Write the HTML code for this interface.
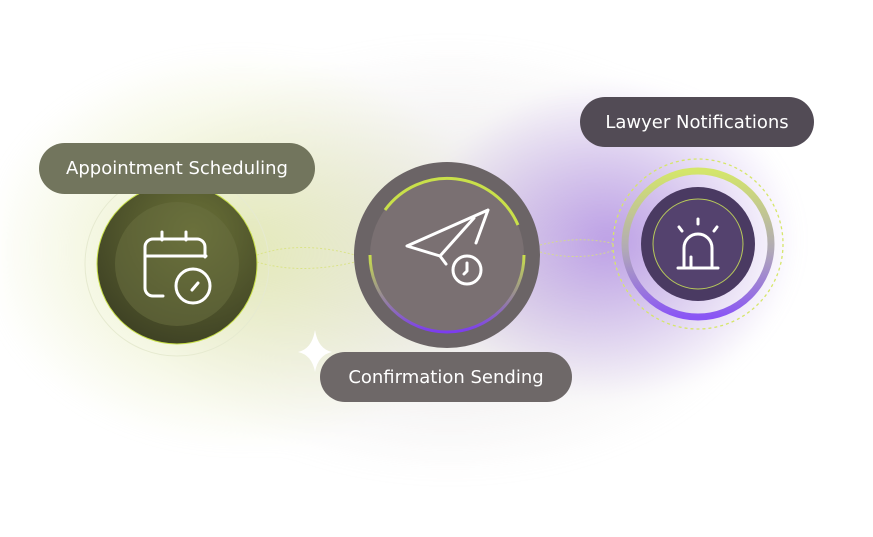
<!DOCTYPE html>
<html><head><meta charset="utf-8"><style>
html,body{margin:0;padding:0;}
body{width:873px;height:537px;position:relative;overflow:hidden;background:#fff;font-family:"DejaVu Sans","Liberation Sans",sans-serif;}
.bg{position:absolute;inset:0;background:
radial-gradient(ellipse 190px 160px at 610px 240px,rgba(165,125,225,0.7),rgba(165,125,225,0) 100%),
radial-gradient(ellipse 260px 200px at 240px 250px,rgba(220,228,160,0.7),rgba(220,228,160,0) 100%),
radial-gradient(ellipse 330px 220px at 450px 260px,rgba(210,205,205,0.55),rgba(210,205,205,0) 100%);
filter:blur(8px);}
.pill{position:absolute;border-radius:26px;color:#fff;font-size:18px;display:flex;align-items:center;justify-content:center;}
</style></head><body>
<div class="bg"></div>
<svg width="873" height="537" style="position:absolute;left:0;top:0">
<defs>
<radialGradient id="lg" cx="0.6" cy="0.3" r="0.8"><stop offset="0" stop-color="#6b7238"/><stop offset="1" stop-color="#3a3d22"/></radialGradient>
<linearGradient id="arc" x1="0" y1="0" x2="0" y2="1"><stop offset="0" stop-color="#c9e04a"/><stop offset="0.5" stop-color="#9a9090"/><stop offset="1" stop-color="#7c3cf0"/></linearGradient>
<linearGradient id="ring" x1="0" y1="0" x2="0" y2="1"><stop offset="0" stop-color="#d4e66a"/><stop offset="0.55" stop-color="#b0a8b8"/><stop offset="1" stop-color="#8a55f5"/></linearGradient>
</defs>
<g stroke="#d8e27a" stroke-width="1" stroke-dasharray="2 2" fill="none" opacity="0.8">
<path d="M257 255 Q300 240 355 255"/><path d="M257 262 Q300 275 355 262"/>
<path d="M540 245 Q580 235 615 244"/><path d="M540 252 Q580 262 615 250"/>
</g>
<circle cx="177" cy="264" r="92" fill="none" stroke="#e6ead0" stroke-width="1"/>
<circle cx="177" cy="264" r="80" fill="url(#lg)" stroke="#c8e04a" stroke-width="1"/>
<circle cx="177" cy="264" r="62" fill="#6a7040" opacity="0.55"/>
<g stroke="#fff" stroke-width="3" fill="none" stroke-linecap="round">
<path d="M163 296 h-10 a8 8 0 0 1 -8 -8 v-41 a8 8 0 0 1 8 -8 h44 a8 8 0 0 1 8 8 v10"/>
<line x1="145" y1="256" x2="206" y2="256"/><line x1="162" y1="232" x2="162" y2="240"/><line x1="186" y1="232" x2="186" y2="240"/>
<circle cx="193" cy="286" r="17"/><line x1="192" y1="290" x2="198" y2="283"/>
</g>
<circle cx="447" cy="255" r="93" fill="#6b6466"/>
<circle cx="447" cy="255" r="77" fill="#7a7072"/>
<path d="M370 255 A77 77 0 1 0 524 255" fill="none" stroke="url(#arc)" stroke-width="3"/>
<path d="M385 210 A77 77 0 0 1 518 225" fill="none" stroke="#c9e04a" stroke-width="3"/>
<g stroke="#fff" stroke-width="3" fill="none" stroke-linecap="round" stroke-linejoin="round">
<path d="M488 210 L407 246 L440 256 L474 218 M488 210 L476 243 M440 256 L446 264"/>
<circle cx="467" cy="270" r="14"/><path d="M467 263 v8 l-3 3"/>
</g>
<circle cx="698" cy="244" r="85" fill="none" stroke="#d6e66a" stroke-width="1.3" stroke-dasharray="3 3"/>
<circle cx="698" cy="244" r="73" fill="none" stroke="url(#ring)" stroke-width="7"/>
<circle cx="698" cy="244" r="57" fill="#4a3a62"/>
<circle cx="698" cy="244" r="45" fill="#54426e" stroke="#b7c95a" stroke-width="1"/>
<g stroke="#fff" stroke-width="3" fill="none" stroke-linecap="round">
<path d="M684 266 v-18 a14 14 0 0 1 28 0 v18"/><path d="M691 266 v-9"/><line x1="678" y1="268" x2="718" y2="268"/>
<line x1="698" y1="219" x2="698" y2="224"/><line x1="679" y1="227" x2="682" y2="231"/><line x1="717" y1="227" x2="714" y2="231"/>
</g>
<path d="M315 330 Q318 349 332 352 Q318 355 315 372 Q312 355 298 352 Q312 349 315 330Z" fill="#fff"/>
</svg>
<div class="pill" style="left:39px;top:143px;width:276px;height:51px;background:#72755d;">Appointment Scheduling</div>
<div class="pill" style="left:320px;top:352px;width:252px;height:50px;background:#6e6868;">Confirmation Sending</div>
<div class="pill" style="left:580px;top:97px;width:234px;height:50px;background:#524b55;">Lawyer Notifications</div>
</body></html>
